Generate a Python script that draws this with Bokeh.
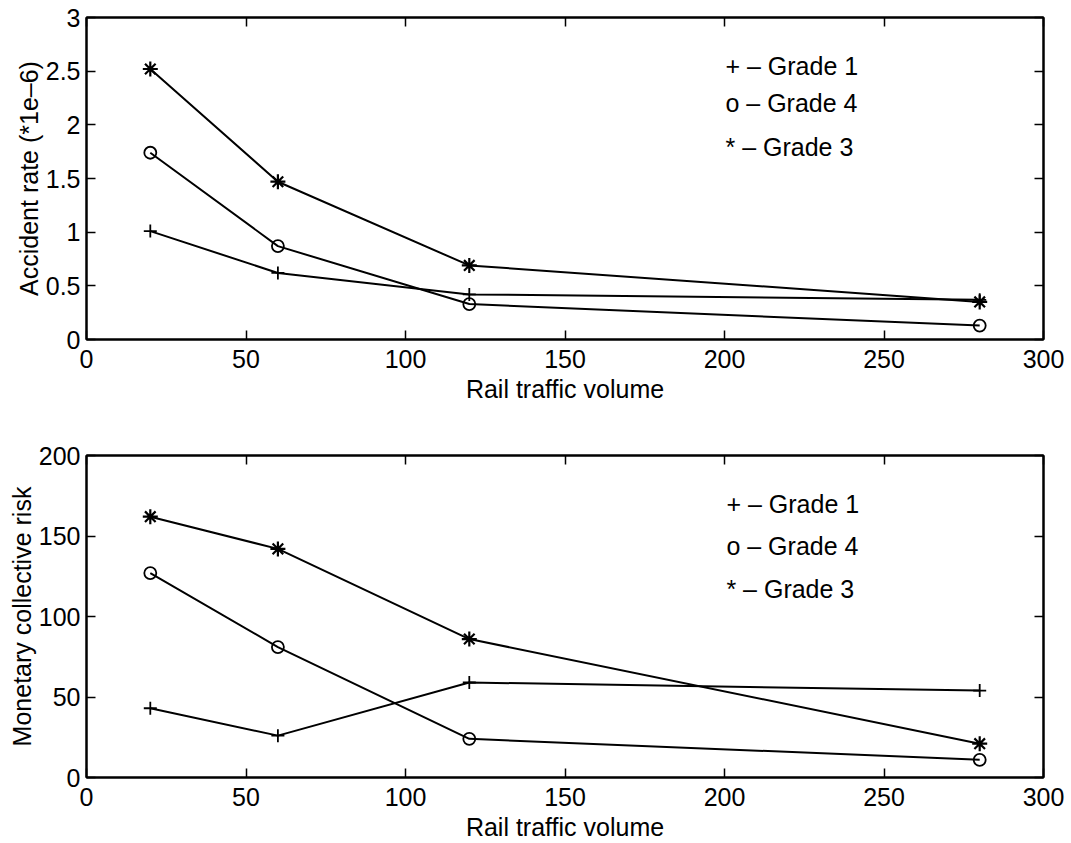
from bokeh.plotting import figure
from bokeh.layouts import column
from bokeh.models import Range1d, FixedTicker, LinearAxis, CustomJSTickFormatter
from bokeh.core.properties import value
from bokeh.embed import file_html
from bokeh.resources import INLINE

# Rail traffic volume at which each grade was evaluated
volume = [20, 60, 120, 280]

# Accident rate (*1e-6) per grade
rate_grade1 = [1.01, 0.62, 0.42, 0.37]
rate_grade4 = [1.74, 0.87, 0.33, 0.13]
rate_grade3 = [2.52, 1.47, 0.69, 0.35]

# Monetary collective risk per grade
risk_grade1 = [43, 26, 59, 54]
risk_grade4 = [127, 81, 24, 11]
risk_grade3 = [162, 142, 86, 21]

x_ticks = [0, 50, 100, 150, 200, 250, 300]
rate_ticks = [0, 0.5, 1, 1.5, 2, 2.5, 3]
risk_ticks = [0, 50, 100, 150, 200]

legend_texts = ["+ \u2013 Grade 1", "o \u2013 Grade 4", "* \u2013 Grade 3"]

FONT = "Liberation Sans"
FS = "25px"
num_fmt = CustomJSTickFormatter(code="return String(Math.round(tick*10)/10)")
blank_fmt = CustomJSTickFormatter(code="return ''")


def style_axis(ax, ticks, show_labels=True):
    ax.ticker = FixedTicker(ticks=ticks)
    ax.major_tick_in = 9
    ax.major_tick_out = 0
    ax.minor_tick_line_color = None
    ax.major_tick_line_color = "black"
    ax.major_tick_line_width = 1.5
    ax.axis_line_color = "black"
    ax.axis_line_width = 2
    if show_labels:
        ax.formatter = num_fmt
        ax.major_label_text_font = FONT
        ax.major_label_text_font_size = FS
        ax.major_label_text_color = "black"
        ax.major_label_standoff = 10
    else:
        ax.formatter = blank_fmt
        ax.major_label_text_color = None
        ax.major_label_standoff = 0
    ax.axis_label_text_font = FONT
    ax.axis_label_text_font_size = FS
    ax.axis_label_text_font_style = "normal"
    ax.axis_label_text_color = "black"


def make_panel(ymax, yticks, ylabel, g1, g4, g3, leg_x, leg_y, top, bottom):
    p = figure(
        width=1071, height=top + 322 + bottom,
        frame_width=957, frame_height=322,
        min_border_left=86, min_border_right=28,
        min_border_top=top, min_border_bottom=bottom,
        x_range=Range1d(0, 300), y_range=Range1d(0, ymax),
        output_backend="svg", toolbar_location=None,
    )
    p.xgrid.grid_line_color = None
    p.ygrid.grid_line_color = None
    p.outline_line_color = "black"
    p.outline_line_width = 2
    p.background_fill_color = "white"
    p.border_fill_color = "white"

    style_axis(p.xaxis[0], x_ticks)
    style_axis(p.yaxis[0], yticks)
    p.yaxis[0].major_label_standoff = 6
    p.xaxis[0].axis_label = "Rail traffic volume"
    p.xaxis[0].axis_label_standoff = 4
    p.yaxis[0].axis_label = ylabel
    p.yaxis[0].axis_label_standoff = 0

    top_ax = LinearAxis()
    style_axis(top_ax, x_ticks, show_labels=False)
    right_ax = LinearAxis()
    style_axis(right_ax, yticks, show_labels=False)
    p.add_layout(top_ax, "above")
    p.add_layout(right_ax, "right")

    lw = 2
    p.line(volume, g1, line_color="black", line_width=lw)
    p.scatter(volume, g1, marker="cross", size=13, line_color="black", line_width=1.8)
    p.line(volume, g4, line_color="black", line_width=lw)
    p.scatter(volume, g4, marker="circle", size=12, line_color="black",
              fill_color=None, line_width=1.8)
    p.line(volume, g3, line_color="black", line_width=lw)
    p.scatter(volume, g3, marker="asterisk", size=15, line_color="black", line_width=2.2)

    p.text(x=[leg_x] * 3, y=leg_y, text=legend_texts,
           text_font=value(FONT), text_font_size=FS, text_color="black",
           text_align="left", text_baseline="middle")
    return p


p1 = make_panel(3, rate_ticks, "Accident rate (*1e\u20136)",
                rate_grade1, rate_grade4, rate_grade3,
                200.3, [2.55, 2.2, 1.79], 17, 82)
p2 = make_panel(200, risk_ticks, "Monetary collective risk",
                risk_grade1, risk_grade4, risk_grade3,
                200.6, [170, 144, 117], 34, 67)

layout = column(p1, p2, spacing=0)
open("out.html", "w").write(file_html(layout, INLINE))
